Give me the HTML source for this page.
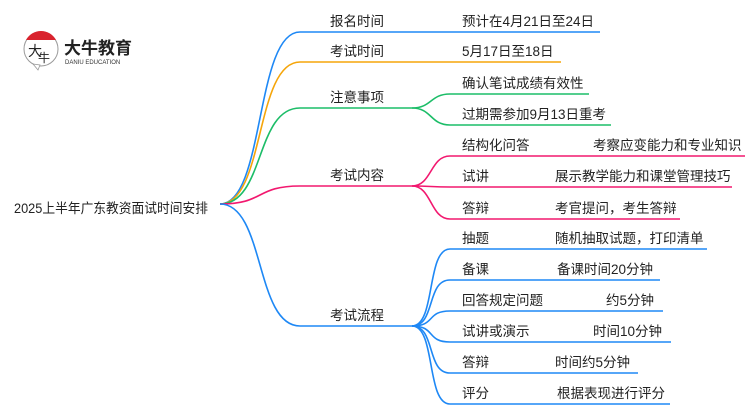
<!DOCTYPE html>
<html><head><meta charset="utf-8"><style>
html,body{margin:0;padding:0;background:#fff;}
svg text{font-family:"Liberation Sans","Noto Sans CJK SC",sans-serif;font-size:13.5px;fill:#222;}
</style></head><body>
<svg width="750" height="410" viewBox="0 0 750 410" xmlns="http://www.w3.org/2000/svg">
<g>
<circle cx="41" cy="49" r="17" fill="#fff" stroke="#999" stroke-width="1"/>
<path d="M26 40 A17 17 0 0 1 56 40 Z" fill="#d9232e"/>
<path d="M33 64 L38 70 L40 65 Z" fill="#fff" stroke="#999" stroke-width="0.8"/>
<text x="28" y="56" style="font-size:14px;fill:#222;">大</text>
<text x="38" y="62" style="font-size:12px;fill:#222;">牛</text>
<text x="64" y="54" style="font-size:17px;font-weight:bold;fill:#222;">大牛教育</text>
<text x="65" y="64" style="font-size:6px;fill:#333;">DANIU EDUCATION</text>
</g>
<text x="14" y="213" textLength="194" lengthAdjust="spacingAndGlyphs">2025上半年广东教资面试时间安排</text>
<g fill="none" stroke-width="1.6">
<path d="M220 204 C265 204 255 32 300 32 L600 32" stroke="#1e88f5"/>
<path d="M220 204 C265 204 255 62 300 62 L561 62" stroke="#f5a50a"/>
<path d="M220 204 C265 204 255 108 300 108 L412 108" stroke="#1cbd68"/>
<path d="M220 204 C265 204 255 186 300 186 L412 186" stroke="#f2186f"/>
<path d="M220 204 C265 204 255 326 300 326 L412 326" stroke="#1e88f5"/>
<g stroke="#1cbd68">
<path d="M412 108 C432 108 430 94 450 94 L589 94"/>
<path d="M412 108 C432 108 430 125 450 125 L611 125"/>
</g>
<g stroke="#f2186f">
<path d="M412 186 C432 186 430 156 450 156 L745 156"/>
<path d="M412 186 C432 186 430 187 450 187 L732 187"/>
<path d="M412 186 C432 186 430 219 450 219 L680 219"/>
</g>
<g stroke="#1e88f5">
<path d="M412 326 C436 326 426 249 450 249 L707 249"/>
<path d="M412 326 C436 326 426 280 450 280 L660 280"/>
<path d="M412 326 C436 326 426 311 450 311 L663 311"/>
<path d="M412 326 C436 326 426 342 450 342 L671 342"/>
<path d="M412 326 C436 326 426 373 450 373 L638 373"/>
<path d="M412 326 C436 326 426 404 450 404 L670 404"/>
</g>
</g>
<text x="330" y="26">报名时间</text>
<text x="330" y="56">考试时间</text>
<text x="330" y="102">注意事项</text>
<text x="330" y="180">考试内容</text>
<text x="330" y="320">考试流程</text>
<text x="462" y="26">预计在4月21日至24日</text>
<text x="462" y="56">5月17日至18日</text>
<text x="462" y="88">确认笔试成绩有效性</text>
<text x="462" y="119">过期需参加9月13日重考</text>
<text x="462" y="150">结构化问答</text><text x="593" y="150">考察应变能力和专业知识</text>
<text x="462" y="181">试讲</text><text x="555" y="181">展示教学能力和课堂管理技巧</text>
<text x="462" y="213">答辩</text><text x="555" y="213">考官提问，考生答辩</text>
<text x="462" y="243">抽题</text><text x="555" y="243">随机抽取试题，打印清单</text>
<text x="462" y="274">备课</text><text x="557" y="274">备课时间20分钟</text>
<text x="462" y="305">回答规定问题</text><text x="606" y="305">约5分钟</text>
<text x="462" y="336">试讲或演示</text><text x="593" y="336">时间10分钟</text>
<text x="462" y="367">答辩</text><text x="555" y="367">时间约5分钟</text>
<text x="462" y="398">评分</text><text x="557" y="398">根据表现进行评分</text>
</svg>
</body></html>
